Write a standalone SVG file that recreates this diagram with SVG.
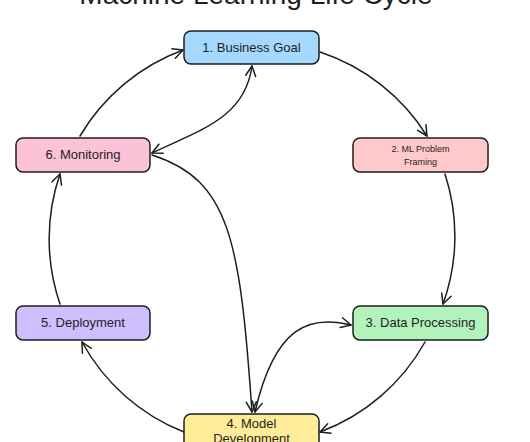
<svg xmlns="http://www.w3.org/2000/svg" width="530" height="442" viewBox="0 0 530 442">
<defs>
<marker id="ah" viewBox="0 0 12 12" refX="11" refY="6" markerWidth="12" markerHeight="12" markerUnits="userSpaceOnUse" orient="auto-start-reverse">
<path d="M1,1 L11,6 L1,11" fill="none" stroke="#1e1e1e" stroke-width="1.5" stroke-linecap="round" stroke-linejoin="round"/>
</marker>
<style>
.box{stroke:#1e1e1e;stroke-width:1.5}
.lbl{font-family:"Liberation Sans",Arial,sans-serif;font-size:13px;fill:#1e1e1e;text-anchor:middle}
.sm{font-size:9px}
.c{fill:none;stroke:#1e1e1e;stroke-width:1.5;stroke-linecap:round}
.title{font-family:"Liberation Sans",Arial,sans-serif;font-size:28px;fill:#1e1e1e;text-anchor:middle}
</style>
</defs>
<rect width="530" height="442" fill="#ffffff"/>
<text class="title" x="256" y="4">Machine Learning Life Cycle</text>
<g id="connectors">
<path class="c" marker-end="url(#ah)" d="M320 52 A200 200 0 0 1 427 136"/>
<path class="c" marker-end="url(#ah)" d="M445 174 A200 200 0 0 1 443 304"/>
<path class="c" marker-end="url(#ah)" d="M425 342 A200 200 0 0 1 320 432"/>
<path class="c" marker-end="url(#ah)" d="M184 432 A200 200 0 0 1 82 342"/>
<path class="c" marker-end="url(#ah)" d="M60 304 A200 200 0 0 1 60 174"/>
<path class="c" marker-end="url(#ah)" d="M80 136 A200 200 0 0 1 183 50"/>
<path class="c" marker-start="url(#ah)" marker-end="url(#ah)" d="M152 153 C200 130 245 118 252 66"/>
<path class="c" marker-end="url(#ah)" d="M152 155 C230 180 240 240 252 412"/>
<path class="c" marker-start="url(#ah)" marker-end="url(#ah)" d="M351 325 C310 315 275 325 255 412"/>
</g>
<g id="node1">
<rect class="box" x="184" y="31" width="135" height="33" rx="7" fill="#a5d8ff"/>
<text class="lbl" x="251.5" y="52">1. Business Goal</text>
</g>
<g id="node2">
<rect class="box" x="353" y="138" width="135" height="34" rx="7" fill="#ffc9c9"/>
<text class="lbl sm" x="420.5" y="152">2. ML Problem</text>
<text class="lbl sm" x="420.5" y="165">Framing</text>
</g>
<g id="node3">
<rect class="box" x="353" y="306" width="135" height="34" rx="7" fill="#b2f2bb"/>
<text class="lbl" x="420.5" y="327">3. Data Processing</text>
</g>
<g id="node4">
<rect class="box" x="184" y="414" width="135" height="40" rx="7" fill="#ffec99"/>
<text class="lbl" x="251.5" y="428">4. Model</text>
<text class="lbl" x="251.5" y="443">Development</text>
</g>
<g id="node5">
<rect class="box" x="16" y="306" width="134" height="34" rx="7" fill="#d0bfff"/>
<text class="lbl" x="83" y="327">5. Deployment</text>
</g>
<g id="node6">
<rect class="box" x="16" y="138" width="134" height="34" rx="7" fill="#fcc2d7"/>
<text class="lbl" x="83" y="159">6. Monitoring</text>
</g>
</svg>
